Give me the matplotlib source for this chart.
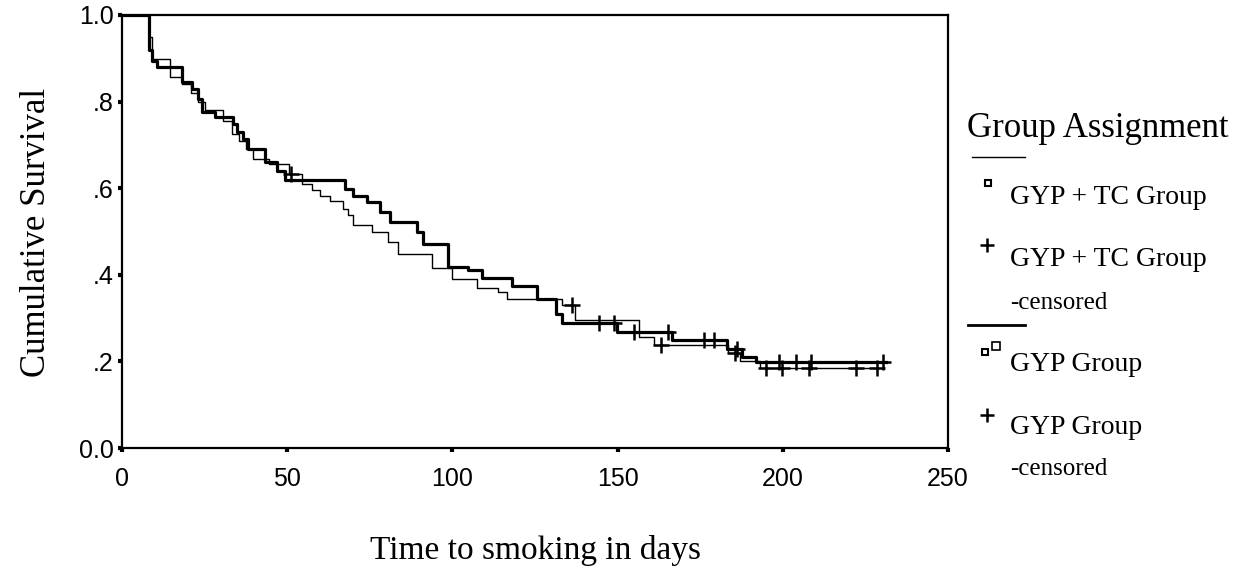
import numpy as np
import matplotlib.pyplot as plt
from matplotlib.lines import Line2D

# Kaplan-Meier steps: time (days) at which survival drops, survival after the drop
gyp_t = [0, 8.2, 9.0, 10.5, 18.1, 21.2, 23.0, 24.2, 28.1, 33.6,
         34.8, 36.6, 38.1, 43.2, 46.9, 49.3, 67.4, 69.9, 74.1, 78.0,
         81.0, 89.2, 91.0, 98.6, 104.6, 108.9, 117.9, 125.5, 131.5, 133.3,
         149.7, 166.6, 183.0, 187.5, 192.0, 231.3]
gyp_s = [1.0, 0.92, 0.894, 0.88, 0.845, 0.83, 0.805, 0.775, 0.764, 0.748,
         0.73, 0.713, 0.69, 0.66, 0.64, 0.62, 0.597, 0.581, 0.567, 0.546,
         0.523, 0.50, 0.47, 0.419, 0.41, 0.393, 0.373, 0.343, 0.31, 0.289,
         0.268, 0.25, 0.228, 0.21, 0.199, 0.199]
gyp_cens = [144.5, 149.0, 155.0, 165.3, 176.3, 179.3, 186.0, 198.8, 204.0, 208.6, 230.2]

tc_t = [0, 8.2, 9.1, 14.5, 18.1, 21.0, 23.0, 25.0, 30.5, 33.3,
        35.4, 37.5, 39.6, 44.5, 50.5, 54.4, 57.4, 59.9, 62.9, 66.8,
        68.4, 69.9, 75.6, 80.5, 83.5, 93.8, 99.8, 107.3, 113.7, 116.4,
        133.3, 137.0, 156.6, 161.1, 183.5, 187.0, 193.0, 229.2]
tc_s = [1.0, 0.95, 0.898, 0.856, 0.84, 0.82, 0.80, 0.78, 0.755, 0.725,
        0.708, 0.69, 0.667, 0.655, 0.632, 0.609, 0.595, 0.581, 0.57, 0.551,
        0.539, 0.516, 0.50, 0.475, 0.447, 0.415, 0.39, 0.37, 0.36, 0.345,
        0.33, 0.295, 0.257, 0.238, 0.22, 0.20, 0.185, 0.185]
tc_cens = [51.0, 136.1, 163.2, 185.5, 195.0, 199.9, 208.0, 222.3, 228.6]

x_ticks = [0, 50, 100, 150, 200, 250]
y_ticks = [0.0, 0.2, 0.4, 0.6, 0.8, 1.0]
y_tick_labels = ['0.0', '.2', '.4', '.6', '.8', '1.0']


def surv_at(times, surv, t):
    i = np.searchsorted(times, t, side='right') - 1
    return np.array(surv)[i]


serif = 'Liberation Serif'
sans = 'Liberation Sans'

W, H = 1248, 587
fig = plt.figure(figsize=(W / 100, H / 100), dpi=100)
ax = fig.add_axes([122 / W, 1 - 448 / H, (948 - 122) / W, (448 - 15) / H])

ax.step(tc_t, tc_s, where='post', color='black', lw=1.0)
ax.step(gyp_t, gyp_s, where='post', color='black', lw=2.3)
ax.plot(tc_cens, surv_at(tc_t, tc_s, tc_cens), '+', color='black', ms=11, mew=1.8)
ax.plot(gyp_cens, surv_at(gyp_t, gyp_s, gyp_cens), '+', color='black', ms=11, mew=1.8)

ax.set_xlim(0, 250)
ax.set_ylim(0, 1.0)
ax.set_xticks(x_ticks)
ax.set_xticklabels([str(v) for v in x_ticks], fontfamily=sans, fontsize=18)
ax.set_yticks(y_ticks)
ax.set_yticklabels(y_tick_labels, fontfamily=sans, fontsize=18)
ax.tick_params(axis='x', direction='out', length=3, width=3, pad=11)
ax.tick_params(axis='y', direction='out', length=3, width=3, pad=3)
for sp in ax.spines.values():
    sp.set_linewidth(1.6)

fig.text(37 / W, 1 - 232 / H, 'Cumulative Survival', rotation=90,
         ha='center', va='center', fontfamily=serif, fontsize=25)
fig.text(535 / W, 1 - 550 / H, 'Time to smoking in days',
         ha='center', va='center', fontfamily=serif, fontsize=24)


# legend block on the right, placed in pixel coordinates
def fx(px):
    return px / W


def fy(py):
    return 1 - py / H


dy = 25
fig.text(fx(967), fy(112 + dy), 'Group Assignment', fontfamily=serif, fontsize=25, va='baseline')
fig.add_artist(Line2D([fx(972), fx(1025)], [fy(132 + dy)] * 2, color='black', lw=1.0))
fig.add_artist(Line2D([fx(988)], [fy(158 + dy)], marker='s', ms=4, mfc='white', mec='black', mew=1.5))
fig.text(fx(1010), fy(179 + dy), 'GYP + TC Group', fontfamily=serif, fontsize=20, va='baseline')
fig.add_artist(Line2D([fx(987)], [fy(220 + dy)], marker='+', ms=10, mec='black', mew=1.8))
fig.text(fx(1010), fy(241 + dy), 'GYP + TC Group', fontfamily=serif, fontsize=20, va='baseline')
fig.text(fx(1010), fy(284 + dy), '-censored', fontfamily=serif, fontsize=18, va='baseline')
fig.add_artist(Line2D([fx(968), fx(1025)], [fy(300 + dy)] * 2, color='black', lw=2.0))
fig.add_artist(Line2D([fx(985)], [fy(327 + dy)], marker='s', ms=4, mfc='white', mec='black', mew=1.5))
fig.add_artist(Line2D([fx(996)], [fy(321 + dy)], marker='s', ms=6, mfc='white', mec='black', mew=1.2))
fig.text(fx(1010), fy(346 + dy), 'GYP Group', fontfamily=serif, fontsize=20, va='baseline')
fig.add_artist(Line2D([fx(987)], [fy(390 + dy)], marker='+', ms=10, mec='black', mew=1.8))
fig.text(fx(1010), fy(409 + dy), 'GYP Group', fontfamily=serif, fontsize=20, va='baseline')
fig.text(fx(1010), fy(450 + dy), '-censored', fontfamily=serif, fontsize=18, va='baseline')

fig.savefig('out.png', dpi=100)
